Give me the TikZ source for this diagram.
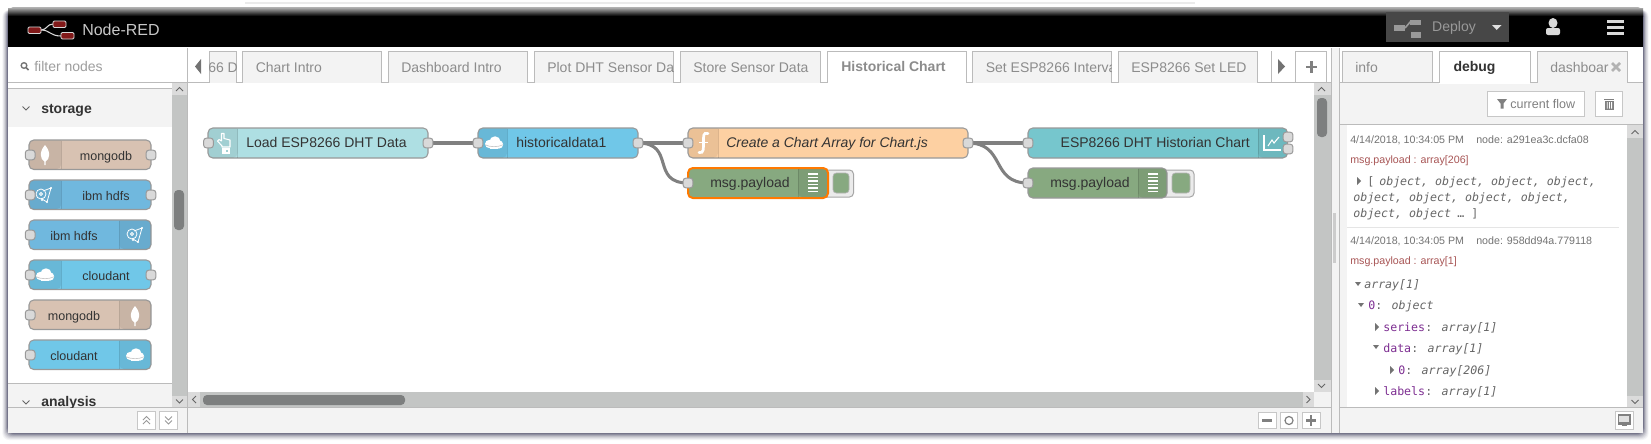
\documentclass[tikz,border=0pt]{standalone}
\usepackage{fontspec}
\setmainfont{Liberation Sans}
\newfontfamily\monof{DejaVu Sans Mono}
\pgfdeclarelayer{bg}\pgfdeclarelayer{wl}\pgfsetlayers{bg,wl,main}
\definecolor{cInject}{HTML}{AEDFE3}
\definecolor{cCloud}{HTML}{70C7E8}
\definecolor{cHdfs}{HTML}{70B8DE}
\definecolor{cMongo}{HTML}{D8C2B2}
\definecolor{cFunc}{HTML}{FDD0A2}
\definecolor{cDebug}{HTML}{87A980}
\definecolor{cChart}{HTML}{76C6CD}
\definecolor{cPane}{HTML}{F3F3F3}
\definecolor{cLine}{HTML}{BBBBBB}
\definecolor{cBar}{HTML}{C3C5C4}
\definecolor{cThumb}{HTML}{7D7F7F}
\definecolor{cTxt}{HTML}{333333}
\definecolor{cTab}{HTML}{8C8C8C}
\definecolor{cMsg}{HTML}{A85555}
\definecolor{cKey}{HTML}{7E2F92}
\definecolor{cVal}{HTML}{666666}
\definecolor{cShadow}{HTML}{3A3A58}
\tikzset{
 fbox/.style={draw=black!40,line width=.8pt,rounded corners=3.6pt,inner sep=0pt},
 sel/.style={draw=orange!95!red,line width=1.5pt},
 portst/.style={draw=black!40,fill=black!15,line width=.75pt,rounded corners=1.9pt,minimum width=7.2pt,minimum height=7.2pt,inner sep=0pt},
 wire/.style={draw=black!50,line width=2.3pt},
 fixh/.style={text height=8pt,text depth=1pt},
 fixn/.style={text height=8.8pt,text depth=1pt},
 nlab/.style={font=\fontsize{10.5}{12}\selectfont,text=cTxt,inner sep=0pt,fixn},
 plab/.style={font=\fontsize{9.4}{11}\selectfont,text=cTxt,inner sep=0pt,fixn},
 tablab/.style={font=\fontsize{10.5}{12}\selectfont,text=cTab,inner sep=0pt,anchor=west,fixn},
 headlab/.style={font=\bfseries\fontsize{10.5}{12}\selectfont,text=cTxt,inner sep=0pt,anchor=west,fixh},
 dbgdate/.style={font=\fontsize{8}{10}\selectfont,text=black!55,inner sep=0pt,anchor=west,fixh},
 dbgmsg/.style={font=\fontsize{8}{10}\selectfont,text=cMsg,inner sep=0pt,anchor=west,fixh},
 dbgval/.style={font=\monof\itshape\fontsize{8.7}{10}\selectfont,text=cVal,inner sep=0pt,anchor=west,fixh},
 dbgkey/.style={font=\monof\fontsize{8.7}{10}\selectfont,text=cKey,inner sep=0pt,anchor=west,fixh},
 btn/.style={draw=black!22,fill=white,line width=.75pt},
 ico/.style={draw=white,line width=.8pt},
 tri/.style={fill=black!55},
}
\newcommand\fnode[7]{\node[fbox,fill=#6,#7,minimum width={(#3-#2)*0.75pt},minimum height={(#5-#4)*0.75pt}] (#1) at ({(#2+#3)/2},{(#4+#5)/2}) {};}
\newcommand\fshade[4]{\fill[black,opacity=.07] (#2,#3) [rounded corners=3.2pt] -- (#1,#3) -- (#1,#4) -- (#2,#4) [sharp corners] -- cycle;\draw[black,opacity=.12,line width=.6pt] (#2,#3) -- (#2,#4);}
\newcommand\port[3]{\node[portst] (#1) at (#2,#3) {};}
\newcommand\cloudico[2]{\begin{scope}[shift={(#1,#2)}]\fill[white] (-4.5,1) ellipse (4.5 and 4.2);\fill[white] (1,-1.5) ellipse (5.5 and 5.2);\fill[white] (4.8,1.5) ellipse (4.4 and 4.2);\fill[white] (-4,1) rectangle (4,6.3);\draw[black!35,opacity=.6,line width=.5pt] (-8.8,1.8) .. controls (-4,4.3) and (4,4.3) .. (9,1.8);\end{scope}}
\newcommand\leafico[2]{\begin{scope}[shift={(#1,#2)}]\fill[white] (0,-10) .. controls (6,-3) and (5,4) .. (0.6,6.5) -- (0.6,10) -- (-0.6,10) -- (-0.6,6.5) .. controls (-5,4) and (-6,-3) .. (0,-10) -- cycle;\end{scope}}
\newcommand\hdfsico[2]{\begin{scope}[shift={(#1,#2)}]\draw[ico,line width=.6pt] (-3,-1) circle (5);\draw[ico,line width=.6pt] (-3,-1) circle (1.5);\draw[ico,line width=.6pt] (-3,3.5) -- (3,7) -- (7,-7) -- (-1,-4);\fill[white] (7,-7) circle (1.1);\fill[white] (3,7) circle (1.1);\fill[white] (-2,5) circle (1.1);\end{scope}}
\newcommand\listico[2]{\begin{scope}[shift={(#1,#2)}]\foreach \yy in {-9,-5.5,-2,1.5,5,8.5}{\fill[white] (-5,\yy-.6) rectangle (5,\yy+.6);}\end{scope}}
\newcommand\tabtxt[5]{\draw[draw=cLine,fill=#4,line width=.75pt] (#1,82.5) -- (#1,51) -- (#2,51) -- (#2,82.5);\begin{scope}\clip (#1,51) rectangle (#2,82);\node[tablab] (#3) at (#1+13,67) {#5};\end{scope}}
\begin{document}
\begin{tikzpicture}[x=.75pt,y=-.75pt]
\useasboundingbox (0,0) rectangle (1651,443);
\begin{pgfonlayer}{bg}
\fill[white] (0,0) rectangle (1651,443);
\fill[black!8] (245,2) rectangle (1195,3.5);
\foreach \d/\o in {7/.05,6/.07,5/.09,4/.12,3/.16,2/.22,1/.32}{
  \fill[cShadow,opacity=\o,rounded corners=5pt] (8-\d*.8,10) rectangle (1643+\d*.8,433+\d);
}
\fill[white] (8,47) rectangle (1643,433);
% header
\fill[black!30,rounded corners=4pt] (8,7) rectangle (1643,20);
\shade[top color=black!35,bottom color=black] (8,8) rectangle (1643,16);
\fill[black] (8,15.5) rectangle (1643,47);
\fill[white] (8,47) rectangle (1643,49);
% footer panes
\fill[cPane] (8,407) rectangle (1643,433);
\draw[cLine,line width=.75pt] (8,407) -- (1643,407);
\draw[cLine,line width=.75pt] (187.5,48) -- (187.5,433);
% palette
\draw[cLine,line width=.75pt] (8,82.5) -- (187.5,82.5);
\draw[cLine,line width=.75pt] (8,88.5) -- (171.5,88.5);
\fill[cPane] (8,89) rectangle (171.5,127);
\draw[cLine,line width=.75pt] (8,383) -- (171.5,383);
\fill[cPane] (8,383.5) rectangle (171.5,406.5);
\fill[cBar] (171.5,83) rectangle (187,407);
\fill[cPane!90!black] (171.5,83) rectangle (187,95);
\fill[cPane!90!black] (171.5,396) rectangle (187,407);
\fill[cThumb,rounded corners=3pt] (174,190) rectangle (184,230);
% workspace scrollbars
\fill[cBar] (187.5,392) rectangle (1314,407);
\fill[cPane!90!black] (187.5,392) rectangle (200,407);
\fill[cPane!90!black] (1303,392) rectangle (1314,407);
\fill[cThumb,rounded corners=3pt] (203,395) rectangle (405,405);
\fill[cBar] (1314,83) rectangle (1331,392);
\fill[cPane!90!black] (1314,83) rectangle (1331,95);
\fill[cPane!90!black] (1314,380) rectangle (1331,392);
\fill[cPane] (1314,392) rectangle (1331,407);
\fill[cThumb,rounded corners=3pt] (1317,98) rectangle (1327,137);
% sidebar
\fill[cPane] (1331,48) rectangle (1339,433);
\fill[black!20] (1333,213) rectangle (1336,263);
\draw[cLine,line width=.75pt] (1331,48) -- (1331,433);
\draw[cLine,line width=.75pt] (1339,48) -- (1339,433);
\fill[cPane] (1339.5,82) rectangle (1643,125);
\fill[cPane] (1339.5,125) rectangle (1347,407);
\draw[cLine,line width=.75pt] (1339,124.5) -- (1643,124.5);
\fill[cBar] (1627,125) rectangle (1643,407);
\fill[cPane!90!black] (1627,125) rectangle (1643,138);
\fill[cPane!90!black] (1627,396) rectangle (1643,407);
\draw[black!10,line width=.75pt] (1347,227) -- (1619,227);
\end{pgfonlayer}
% scroll arrows
\draw[black!60,line width=.7pt] (176,91) -- (179.5,87.5) -- (183,91);
\draw[black!60,line width=.7pt] (176,399.5) -- (179.5,403) -- (183,399.5);
\draw[black!60,line width=.7pt] (196,396) -- (192.5,399.5) -- (196,403);
\draw[black!60,line width=.7pt] (1306.5,396) -- (1310,399.5) -- (1306.5,403);
\draw[black!60,line width=.7pt] (1318,91) -- (1321.5,87.5) -- (1325,91);
\draw[black!60,line width=.7pt] (1318,384) -- (1321.5,387.5) -- (1325,384);
\draw[black!60,line width=.7pt] (1631.5,134) -- (1635,130.5) -- (1638.5,134);
\draw[black!60,line width=.7pt] (1631.5,400) -- (1635,403.5) -- (1638.5,400);
% header content
\draw[white!85!black,line width=.8pt] (41,30) .. controls (47,30) and (47,24) .. (53,24);
\draw[white!85!black,line width=.8pt] (41,30) .. controls (50,30) and (50,36) .. (61,36);
\draw[white!85!black,fill=red!45!black!90,line width=.7pt,rounded corners=1pt] (28,27) rectangle (41,33.5);
\draw[white!85!black,fill=red!45!black!90,line width=.7pt,rounded corners=1pt] (53,21) rectangle (66,27.5);
\draw[white!85!black,fill=red!45!black!90,line width=.7pt,rounded corners=1pt] (61,32.5) rectangle (74,39);
\node[font=\fontsize{12}{14}\selectfont,text=black!22,inner sep=0pt,anchor=west] (title) at (82,29.5) {Node-RED};
\fill[black!72] (1386,12) rectangle (1509,42);
\fill[black!40] (1394,25) rectangle (1405,31);
\draw[black!40,line width=1.2pt] (1405,28) -- (1411,21);
\fill[black!40] (1410,19.5) rectangle (1421,24.5);
\fill[black!40] (1411,32) rectangle (1421,38);
\node[font=\fontsize{10.5}{12}\selectfont,text=black!40,inner sep=0pt] (deploy) at (1454,27.5) {Deploy};
\fill[black!12] (1492,25) -- (1501.5,25) -- (1496.7,30) -- cycle;
\fill[black!15] (1553,23) circle (4.5 and 5);
\fill[black!15,rounded corners=1.5pt] (1546,35) rectangle (1560,28);
\fill[black!15] (1607,20) rectangle (1624,23);
\fill[black!15] (1607,26) rectangle (1624,29);
\fill[black!15] (1607,32) rectangle (1624,35);
% palette filter
\draw[black!55,line width=1pt] (24,65.5) circle (2.8);
\draw[black!55,line width=1.2pt] (26,67.5) -- (28.5,70);
\node[tablab,text=black!38] (filter) at (34,66.3) {filter nodes};
\draw[black!60,line width=.6pt] (22.5,106.5) -- (26,110) -- (29.5,106.5);
\node[headlab] (storage) at (41,108.6) {storage};
\draw[black!60,line width=.6pt] (22.5,400.5) -- (26,404) -- (29.5,400.5);
\begin{scope}\clip (8,384) rectangle (171,407);
\node[headlab] (analysis) at (41,402) {analysis};
\end{scope}
% palette nodes
\fnode{pa}{29}{151}{140}{169.5}{cMongo}{}\fshade{29.5}{61}{140.5}{169}\leafico{45}{155}
\node[plab] (pal) at (106,155.3) {mongodb};\port{pai}{30.2}{155}\port{pao}{151}{155}
\fnode{pb}{29}{151}{180}{209.5}{cHdfs}{}\fshade{29.5}{61}{180.5}{209}\hdfsico{44}{195}
\node[plab] (pbl) at (106,195.3) {ibm hdfs};\port{pbi}{30.2}{195}\port{pbo}{151}{195}
\fnode{pc}{29}{151}{220}{249.5}{cHdfs}{}\fshade{150.5}{119.5}{220.5}{249}\hdfsico{135}{235}
\node[plab] (pcl) at (74,235.3) {ibm hdfs};\port{pci}{30.2}{235}
\fnode{pd}{29}{151}{260}{289.5}{cCloud}{}\fshade{29.5}{61}{260.5}{289}\cloudico{45}{275}
\node[plab] (pdl) at (106,275.3) {cloudant};\port{pdi}{30.2}{275}\port{pdo}{151}{275}
\fnode{pe}{29}{151}{300}{329.5}{cMongo}{}\fshade{150.5}{119.5}{300.5}{329}\leafico{135}{316}
\node[plab] (pel) at (74,315.3) {mongodb};\port{pei}{30.2}{315}
\fnode{pf}{29}{151}{340}{369.5}{cCloud}{}\fshade{150.5}{119.5}{340.5}{369}\cloudico{135}{355}
\node[plab] (pfl) at (74,355.3) {cloudant};\port{pfi}{30.2}{355}
% palette footer buttons
\draw[btn] (137.5,411) rectangle (155,429);
\draw[btn] (159,411) rectangle (177,429);
\draw[black!40,line width=.6pt] (143,420) -- (146.5,416.5) -- (150,420) (143,424) -- (146.5,420.5) -- (150,424);
\draw[black!40,line width=.6pt] (165,416.5) -- (168.5,420) -- (172,416.5) (165,420.5) -- (168.5,424) -- (172,420.5);
% tabs
\draw[cLine,line width=.75pt] (187.5,82.5) -- (1331,82.5);
\draw[cLine,line width=.75pt] (209,51) -- (209,82);
\fill[black!55] (201,59) -- (201,74) -- (195,66.5) -- cycle;
\draw[draw=cLine,fill=cPane,line width=.75pt] (209,82.5) -- (209,51) -- (236,51) -- (236,82.5);
\begin{scope}\clip (209,51) rectangle (236,82);
\node[tablab] (tz) at (208,67) {66 D};
\end{scope}
\tabtxt{242.5}{381.5}{ta}{cPane}{Chart Intro}
\tabtxt{388}{527.5}{tb}{cPane}{Dashboard Intro}
\tabtxt{534}{673.6}{tc}{cPane}{Plot DHT Sensor Da}
\tabtxt{680}{820}{td}{cPane}{Store Sensor Data}
\fill[white] (827,51) rectangle (966,83.5);
\draw[draw=cLine,line width=.75pt] (827,82.5) -- (827,51) -- (966,51) -- (966,82.5);
\node[headlab,text=cTab,anchor=center] (te) at (893.5,67) {Historical Chart};
\tabtxt{972.5}{1111.6}{tf}{cPane}{Set ESP8266 Interva}
\tabtxt{1118}{1257}{tg}{cPane}{ESP8266 Set LED}
\draw[cLine,line width=.75pt] (1271,51) -- (1271,82);
\fill[black!55] (1278,59) -- (1278,74) -- (1285,66.5) -- cycle;
\draw[btn,draw=cLine] (1295.5,51) rectangle (1326.5,82.5);
\fill[black!50] (1310,61) rectangle (1312.5,73);
\fill[black!50] (1305.5,65.7) rectangle (1317,68.2);
% sidebar tabs
\tabtxt{1342}{1432}{sa}{cPane}{info}
\fill[white] (1439,51) rectangle (1530,83.5);
\draw[draw=cLine,line width=.75pt] (1339,82.5) -- (1439,82.5) (1530,82.5) -- (1643,82.5);
\draw[draw=cLine,line width=.75pt] (1439,82.5) -- (1439,51) -- (1530,51) -- (1530,82.5);
\node[headlab,anchor=center] (sb) at (1474.5,67) {debug};
\draw[draw=cLine,fill=cPane,line width=.75pt] (1537,82.5) -- (1537,51) -- (1627,51) -- (1627,82.5);
\begin{scope}\clip (1537,51) rectangle (1610,82);
\node[tablab] (sc) at (1550,67) {dashboar};
\end{scope}
\draw[black!30,line width=2pt] (1612,63) -- (1620,71) (1620,63) -- (1612,71);
% debug toolbar
\draw[btn] (1487,91) rectangle (1584,116);
\fill[black!50] (1497,99) -- (1507,99) -- (1503.5,103.5) -- (1503.5,108.5) -- (1500.5,108.5) -- (1500.5,103.5) -- cycle;
\node[font=\fontsize{9.4}{11}\selectfont,text=black!50,inner sep=0pt,anchor=west] (cf) at (1510,104) {current flow};
\draw[btn] (1595,91) rectangle (1622,116);
\fill[black!50] (1604.5,100.5) rectangle (1613.5,110);
\fill[white] (1606.8,102) rectangle (1607.6,108.5) (1609,102) rectangle (1609.8,108.5) (1611.2,102) rectangle (1612,108.5);
\fill[black!50] (1604,98.5) rectangle (1614,99.8);
% debug list
\node[dbgdate] (d1) at (1350,138.5) {4/14/2018, 10:34:05 PM};
\node[dbgdate] (n1) at (1476,138.5) {node: a291ea3c.dcfa08};
\node[dbgmsg] (m1) at (1350,158.5) {msg.payload : array[206]};
\fill[tri] (1357,177) -- (1357,185) -- (1361,181) -- cycle;
\node[dbgval,font=\monof\fontsize{8.7}{10}\selectfont] (v0) at (1367,181) {[};
\node[dbgval] (v1) at (1379,181) {object, object, object, object,};
\node[dbgval] (v2) at (1353,197) {object, object, object, object,};
\node[dbgval] (v3) at (1353,213) {object, object};
\node[dbgval,font=\monof\fontsize{8.7}{10}\selectfont] (v4) at (1457,213) {… ]};
\node[dbgdate] (d2) at (1350,239.5) {4/14/2018, 10:34:05 PM};
\node[dbgdate] (n2) at (1476,239.5) {node: 958dd94a.779118};
\node[dbgmsg] (m2) at (1350,259.5) {msg.payload : array[1]};
\fill[tri] (1355,282) -- (1361,282) -- (1358,286) -- cycle;
\node[dbgval] (a0) at (1364,284) {array[1]};
\fill[tri] (1358,303) -- (1364,303) -- (1361,307) -- cycle;
\node[dbgkey] (a1k) at (1368,305) {0};
\node[dbgval] (a1) at (1375,305) {\textup{:} object};
\fill[tri] (1375,323) -- (1375,331) -- (1379,327) -- cycle;
\node[dbgkey] (a2k) at (1383,327) {series};
\node[dbgval] (a2) at (1425,327) {\textup{:} array[1]};
\fill[tri] (1373,345) -- (1379,345) -- (1376,349) -- cycle;
\node[dbgkey] (a3k) at (1383,347.5) {data};
\node[dbgval] (a3) at (1411,347.5) {\textup{:} array[1]};
\fill[tri] (1390,366) -- (1390,374) -- (1394,370) -- cycle;
\node[dbgkey] (a4k) at (1398,370) {0};
\node[dbgval] (a4) at (1405,370) {\textup{:} array[206]};
\fill[tri] (1375,387) -- (1375,395) -- (1379,391) -- cycle;
\node[dbgkey] (a5k) at (1383,391) {labels};
\node[dbgval] (a5) at (1425,391) {\textup{:} array[1]};
% workspace footer buttons
\draw[btn] (1258,412) rectangle (1276,428);
\fill[black!50] (1262,419) rectangle (1272,421.5);
\draw[btn] (1280,412) rectangle (1297,428);
\draw[black!50,line width=.9pt] (1289,420.5) circle (4);
\draw[btn] (1302,412) rectangle (1320,428);
\fill[black!50] (1306,419) rectangle (1316,421.5);
\fill[black!50] (1309.8,415) rectangle (1312.2,425.5);
\draw[btn] (1615,411) rectangle (1633,429);
\draw[black!50,fill=black!12,line width=.8pt] (1618.5,415) rectangle (1630,424);
\fill[black!50] (1618.5,422) rectangle (1630,424.5);
\fill[black!50] (1622,425) rectangle (1627,426.2);
% flow nodes
\fnode{load}{208}{428}{128}{158}{cInject}{}\fshade{208.5}{237.5}{128.5}{157.5}
\node[nlab,anchor=west] (loadl) at (246,142.5) {Load ESP8266 DHT Data};
\draw[ico,line join=round] (222,146) -- (217.5,141) -- (219,139.5) -- (221.5,141) -- (221.5,133.5) -- (224,133.5) -- (224,138.5) -- (230,140) -- (230,147) -- (222,147) -- cycle;
\draw[ico] (222.5,149) rectangle (229,153);
\fill[white] (223,150) rectangle (226,153);
\port{loadi}{208.5}{143}\port{loado}{428}{143}
\fnode{hist}{478}{638}{128}{158}{cCloud}{}\fshade{478.5}{507}{128.5}{157.5}\cloudico{494}{143}
\node[nlab,anchor=west] (histl) at (516,142.5) {historicaldata1};
\port{histi}{478}{143}\port{histo}{638}{143}
\fnode{func}{688}{968}{128}{158}{cFunc}{}\fshade{688.5}{718}{128.5}{157.5}
\draw[white,line width=2pt,line cap=round] (708,133.5) .. controls (703,132) and (703.5,136) .. (703.5,142) .. controls (703.5,148) and (704,154) .. (699,152.5);
\draw[white,line width=1.4pt] (699,142.5) -- (708,142.5);
\node[nlab,anchor=west,font=\itshape\fontsize{10.5}{12}\selectfont] (funcl) at (726,142.5) {Create a Chart Array for Chart.js};
\port{funci}{688}{143}\port{funco}{968}{143}
\fnode{chart}{1028}{1287.5}{128}{158}{cChart}{}\fshade{1287}{1258}{128.5}{157.5}
\draw[ico] (1264,135) -- (1264,150) -- (1281,150);
\draw[ico] (1268,146) -- (1272,140) -- (1274,143) -- (1279,137);
\node[nlab,anchor=east] (chartl) at (1250,142.5) {ESP8266 DHT Historian Chart};
\port{charti}{1028}{143}\port{charta}{1288}{137}\port{chartb}{1288}{149}
% debug nodes
\draw[draw=black!35,fill=black!8,line width=.75pt,rounded corners=3pt] (820,170) rectangle (853.5,197);
\fnode{dbga}{688}{828}{168}{198}{cDebug}{sel}\fshade{827}{798}{169}{197}\listico{813}{183}
\fill[cDebug,draw=black!30,line width=.5pt,rounded corners=2.5pt] (833,173) rectangle (849,193);
\node[nlab] (dbgal) at (750,182.7) {msg.payload};
\port{dbgai}{688}{183}
\draw[draw=black!35,fill=black!8,line width=.75pt,rounded corners=3pt] (1160,170) rectangle (1194,197);
\fnode{dbgb}{1028}{1167}{168}{198}{cDebug}{}\fshade{1166.5}{1138}{168.5}{197.5}\listico{1153}{183}
\fill[cDebug,draw=black!30,line width=.5pt,rounded corners=2.5pt] (1172,173) rectangle (1190,193);
\node[nlab] (dbgbl) at (1090,182.7) {msg.payload};
\port{dbgbi}{1028}{183}
% wires
\begin{pgfonlayer}{wl}
\draw[wire] (loado.center) -- (histi.center);
\draw[wire] (histo.center) -- (funci.center);
\draw[wire] (histo.center) .. controls +(38,0) and +(-38,0) .. (dbgai.center);
\draw[wire] (funco.center) -- (charti.center);
\draw[wire] (funco.center) .. controls +(38,0) and +(-38,0) .. (dbgbi.center);
\end{pgfonlayer}
\end{tikzpicture}
\end{document}
